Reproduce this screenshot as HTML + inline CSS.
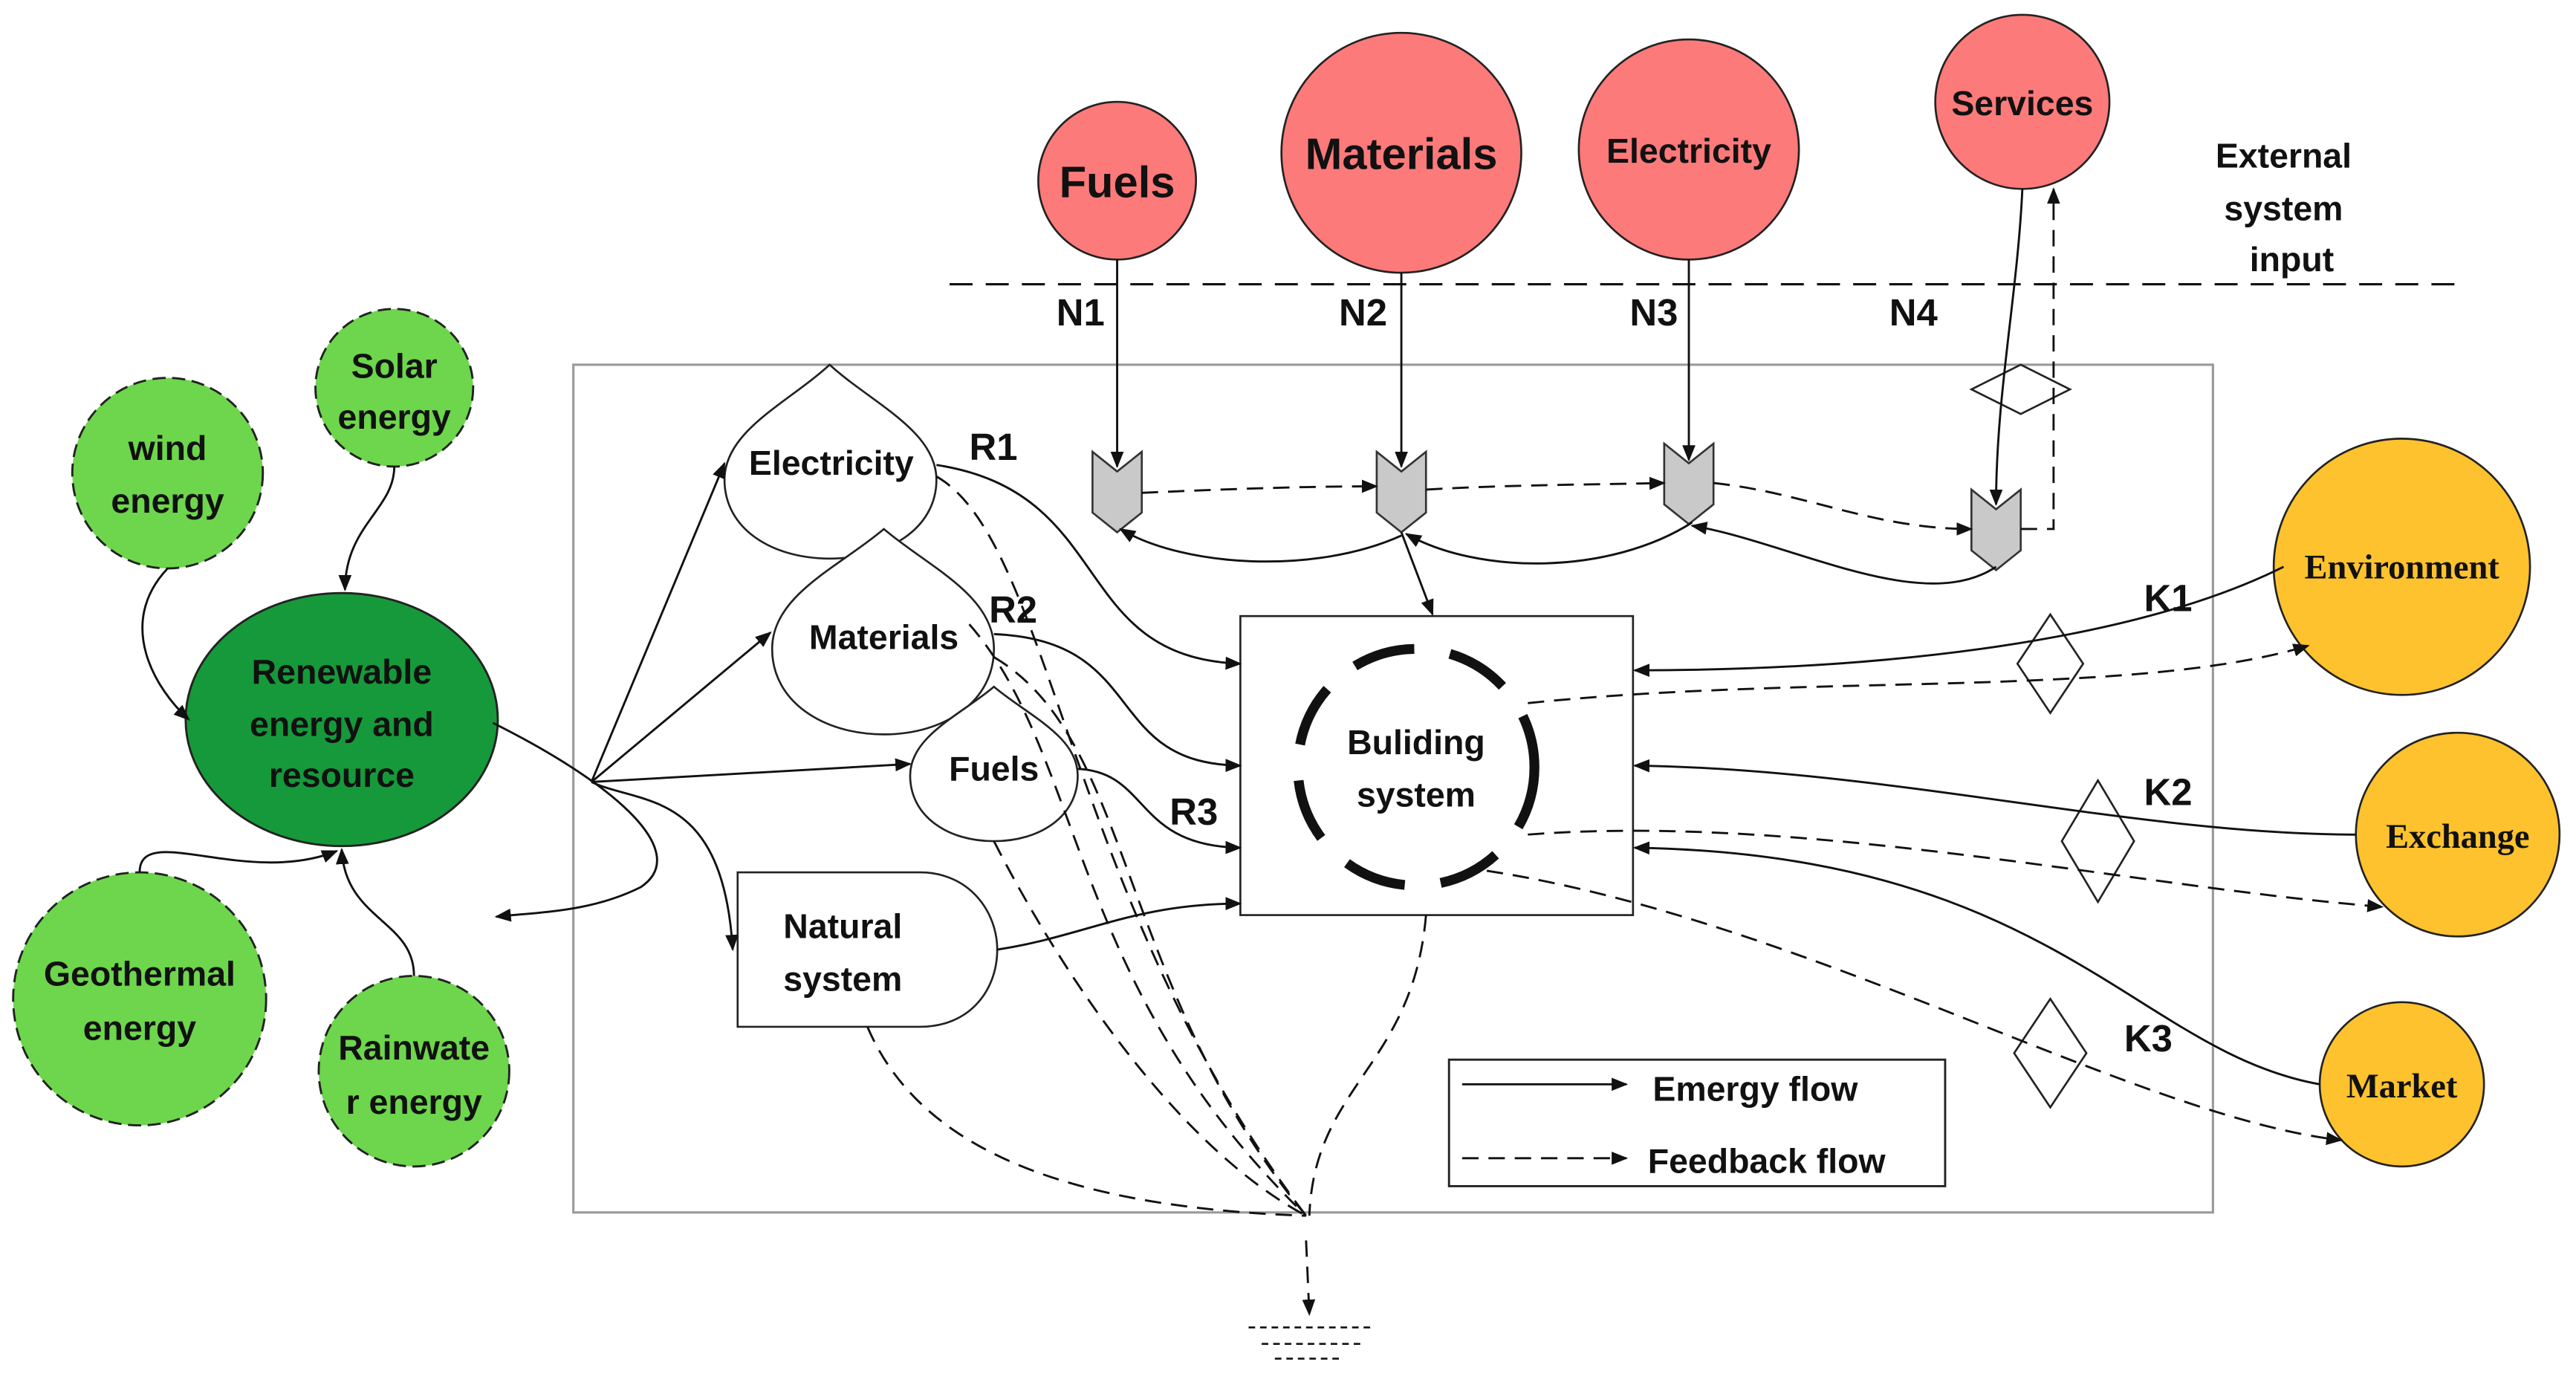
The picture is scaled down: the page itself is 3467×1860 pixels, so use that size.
<!DOCTYPE html>
<html><head><meta charset="utf-8"><style>
html,body{margin:0;padding:0;background:#fff}
svg{display:block}
text{font-family:"Liberation Sans",sans-serif;font-weight:bold;fill:#111}
</style></head><body>
<svg width="3467" height="1860" viewBox="0 0 1568 841.2" preserveAspectRatio="none" xmlns="http://www.w3.org/2000/svg">
<defs>
<marker id="a" markerWidth="10" markerHeight="8" refX="9" refY="4" orient="auto" markerUnits="userSpaceOnUse"><path d="M0,0 L10,4 L0,8 Z" fill="#111"/></marker>
</defs>
<rect width="1568" height="841.2" fill="#fff"/>
<g fill="none" stroke="#111" stroke-width="1.4">
<line x1="578" y1="173" x2="1502" y2="173" stroke-dasharray="14,8"/>
<rect x="349" y="222" width="998" height="516" stroke="#999"/>
</g>
<!-- red circles -->
<g stroke="#222" stroke-width="1.2" fill="#fd7a7a">
<circle cx="680" cy="110" r="48"/>
<circle cx="853" cy="93" r="73"/>
<circle cx="1028" cy="91" r="67"/>
<circle cx="1231" cy="62" r="53"/>
</g>
<text x="680" y="120" font-size="27" text-anchor="middle">Fuels</text>
<text x="853" y="103" font-size="27" text-anchor="middle">Materials</text>
<text x="1028" y="99" font-size="21" text-anchor="middle">Electricity</text>
<text x="1231" y="70" font-size="21" text-anchor="middle">Services</text>
<g font-size="21" text-anchor="middle"><text x="1390" y="102">External</text><text x="1390" y="134">system</text><text x="1395" y="165">input</text></g>
<g font-size="23"><text x="643" y="198">N1</text><text x="815" y="198">N2</text><text x="992" y="198">N3</text><text x="1150" y="198">N4</text></g>
<!-- green -->
<g stroke="#222" stroke-width="1.3" stroke-dasharray="8,4" fill="#6dd64c">
<circle cx="102" cy="288" r="58"/>
<circle cx="240" cy="236" r="48"/>
<circle cx="85" cy="608" r="77"/>
<circle cx="252" cy="652" r="58"/>
</g>
<ellipse cx="208" cy="438" rx="95" ry="77" fill="#16993a" stroke="#222" stroke-width="1.3"/>
<g font-size="21" text-anchor="middle">
<text x="102" y="280">wind</text><text x="102" y="312">energy</text>
<text x="240" y="230">Solar</text><text x="240" y="261">energy</text>
<text x="208" y="416">Renewable</text><text x="208" y="448">energy and</text><text x="208" y="479">resource</text>
<text x="85" y="600">Geothermal</text><text x="85" y="633">energy</text>
<text x="252" y="645">Rainwate</text><text x="252" y="678">r energy</text>
</g>
<!-- orange -->
<g stroke="#222" stroke-width="1.2" fill="#fdc22e">
<circle cx="1462" cy="345" r="78"/>
<circle cx="1496" cy="508" r="62"/>
<circle cx="1462" cy="660" r="50"/>
</g>
<g font-size="21" text-anchor="middle" style="font-family:'Liberation Serif',serif">
<text x="1462" y="352" style="font-family:'Liberation Serif',serif">Environment</text>
<text x="1496" y="516" style="font-family:'Liberation Serif',serif">Exchange</text>
<text x="1462" y="668" style="font-family:'Liberation Serif',serif">Market</text>
</g>
<!-- teardrops -->
<g fill="#fff" stroke="#222" stroke-width="1.2">
<path d="M505,222 C530,245 570,262 570,292 C570,322 540,340 505,340 C470,340 441,322 441,292 C441,262 480,245 505,222 Z"/>
<path d="M538,322 C565,345 605,362 605,395 C605,427 575,447 538,447 C501,447 470,427 470,395 C470,362 511,345 538,322 Z"/>
<path d="M605,418 C625,435 656,448 656,472 C656,497 633,512 605,512 C577,512 554,497 554,472 C554,448 585,435 605,418 Z"/>
<path d="M449,531 L560,531 C590,531 607,555 607,578 C607,603 590,625 560,625 L449,625 Z"/>
<rect x="755" y="375" width="239" height="182"/>
</g>
<g font-size="21" text-anchor="middle">
<text x="506" y="289">Electricity</text>
<text x="538" y="395">Materials</text>
<text x="605" y="475">Fuels</text>
<text x="513" y="571">Natural</text><text x="513" y="603">system</text>
<text x="862" y="459">Buliding</text><text x="862" y="491">system</text>
</g>
<g font-size="23"><text x="590" y="280">R1</text><text x="602" y="379">R2</text><text x="712" y="502">R3</text>
<text x="1305" y="372">K1</text><text x="1305" y="490">K2</text><text x="1293" y="640">K3</text></g>
<circle cx="862" cy="467" r="72" fill="none" stroke="#111" stroke-width="6" stroke-dasharray="38,22"/>
<!-- storages -->
<g fill="#c9c9c9" stroke="#333" stroke-width="1.2">
<path d="M665,275 L680,287 L695,275 L695,312 L680,324 L665,312 Z"/>
<path d="M838,275 L853,287 L868,275 L868,312 L853,324 L838,312 Z"/>
<path d="M1013,270 L1028,282 L1043,270 L1043,307 L1028,319 L1013,307 Z"/>
<path d="M1200,298 L1215,310 L1230,298 L1230,335 L1215,347 L1200,335 Z"/>
</g>
<!-- diamonds -->
<g fill="#fff" stroke="#222" stroke-width="1.2">
<path d="M1200,237 L1230,222 L1260,237 L1230,252 Z"/>
<path d="M1248,374 L1268,404 L1248,434 L1228,404 Z"/>
<path d="M1277,475 L1299,512 L1277,549 L1255,512 Z"/>
<path d="M1248,608 L1270,641 L1248,674 L1226,641 Z"/>
</g>
<!-- solid connectors -->
<g fill="none" stroke="#111" stroke-width="1.3" marker-end="url(#a)">
<line x1="680" y1="158" x2="680" y2="284"/>
<line x1="853" y1="166" x2="853" y2="284"/>
<line x1="1028" y1="158" x2="1028" y2="280"/>
<path d="M1231,115 C1228,180 1215,240 1215,307"/>
<path d="M240,284 C240,310 210,320 210,359"/>
<path d="M102,346 C70,380 95,420 115,438"/>
<path d="M85,531 C85,500 150,540 205,518"/>
<path d="M252,594 C252,560 210,560 208,517"/>
<path d="M360,476 L441,282"/>
<path d="M360,476 L469,385"/>
<path d="M360,476 L554,465"/>
<path d="M360,476 C390,490 440,480 446,578"/>
<path d="M300,440 C380,480 420,520 390,540 C360,555 330,555 302,558"/>
<path d="M570,283 C680,300 650,400 755,404"/>
<path d="M605,386 C700,390 670,465 755,466"/>
<path d="M656,468 C700,470 690,515 755,516"/>
<path d="M607,578 C660,570 690,550 755,550"/>
<path d="M853,324 L872,374"/>
<path d="M1215,345 C1170,375 1090,330 1030,320"/>
<path d="M1030,318 C980,350 900,350 856,325"/>
<path d="M853,326 C800,350 720,345 682,322"/>
<path d="M1390,345 C1300,390 1150,408 995,408"/>
<path d="M1434,508 C1300,508 1150,468 995,466"/>
<path d="M1412,660 C1300,640 1250,520 995,516"/>
<path d="M890,660 L990,660"/>
</g>
<!-- dashed connectors -->
<g fill="none" stroke="#111" stroke-width="1.3" stroke-dasharray="10,6" marker-end="url(#a)">
<path d="M695,300 C740,298 790,296 838,296"/>
<path d="M868,298 C920,295 970,295 1013,294"/>
<path d="M1043,294 C1100,300 1140,322 1200,322"/>
<path d="M1230,322 L1250,322 L1250,115"/>
<path d="M930,428 C1100,410 1300,425 1405,393"/>
<path d="M930,508 C1100,495 1300,540 1450,552"/>
<path d="M905,530 C1100,560 1300,680 1425,694"/>
<path d="M890,705 L990,705"/>
<path d="M795,755 L797,800"/>
</g>
<g fill="none" stroke="#111" stroke-width="1.3" stroke-dasharray="10,6">
<path d="M570,290 C640,330 650,550 795,740"/>
<path d="M605,400 C690,450 680,600 795,740"/>
<path d="M590,380 C660,460 650,600 795,740"/>
<path d="M605,512 C650,600 720,700 795,740"/>
<path d="M528,625 C560,700 650,735 795,740"/>
<path d="M868,557 C860,650 800,660 797,740"/>
</g>
<g stroke="#111" stroke-width="1.2" stroke-dasharray="4,3">
<line x1="760" y1="808" x2="835" y2="808"/><line x1="768" y1="818" x2="828" y2="818"/><line x1="776" y1="827" x2="818" y2="827"/>
</g>
<rect x="882" y="645" width="302" height="77" fill="none" stroke="#222" stroke-width="1.3"/>
<text x="1006" y="670" font-size="21">Emergy flow</text>
<text x="1003" y="714" font-size="21">Feedback flow</text>
</svg>
</body></html>
